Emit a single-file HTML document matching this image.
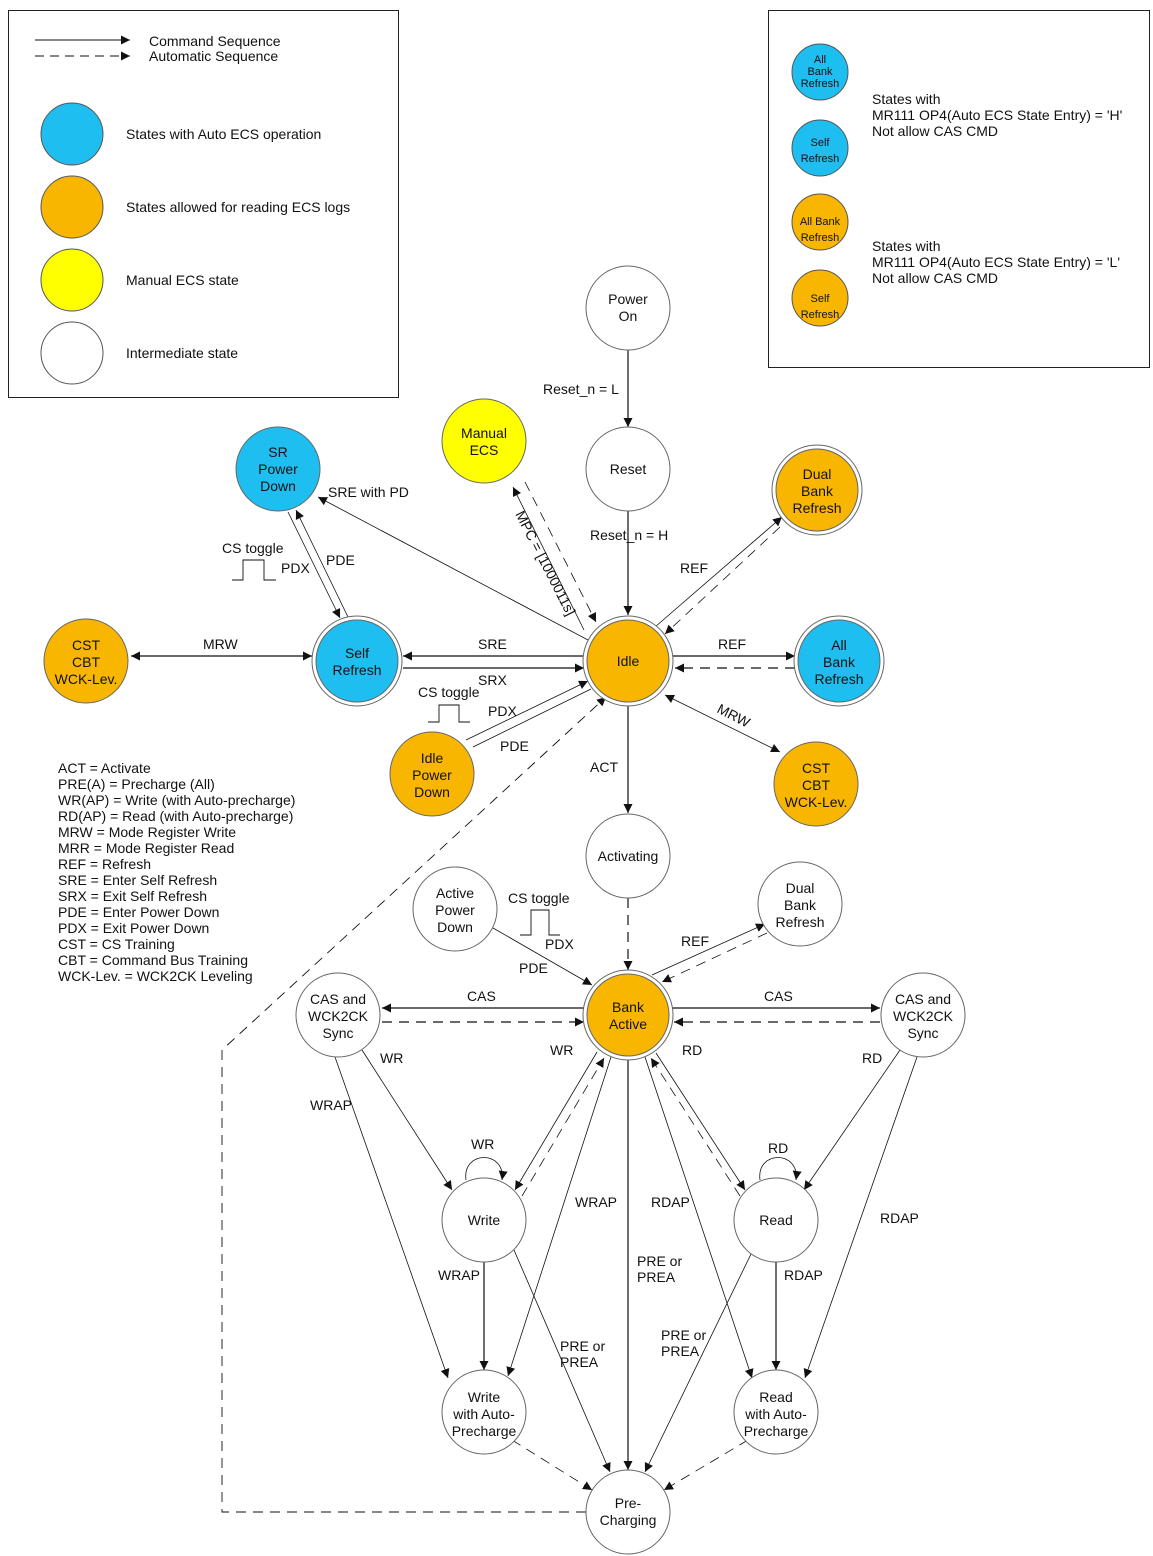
<!DOCTYPE html>
<html><head><meta charset="utf-8"><style>
html,body{margin:0;padding:0;background:#fff}
svg{display:block}
text{font-family:"Liberation Sans",Arial,sans-serif;font-size:14px;fill:#111}
.c{text-anchor:middle}
.s{font-size:11px}
</style></head><body>
<svg width="1153" height="1556" viewBox="0 0 1153 1556" xmlns="http://www.w3.org/2000/svg">
<defs>
<marker id="a" viewBox="0 0 10 10" refX="10" refY="5" markerWidth="9" markerHeight="9" orient="auto-start-reverse" markerUnits="userSpaceOnUse"><path d="M0,0L10,5L0,10z" fill="#111"/></marker>
</defs>
<!-- legends -->
<rect x="8.5" y="10.5" width="390" height="387" fill="none" stroke="#222"/>
<line x1="35" y1="40" x2="130" y2="40" stroke="#111" marker-end="url(#a)"/>
<line x1="35" y1="56" x2="130" y2="56" stroke="#111" stroke-dasharray="9,6" marker-end="url(#a)"/>
<text x="149" y="46">Command Sequence</text>
<text x="149" y="61">Automatic Sequence</text>
<circle cx="72" cy="134" r="31" fill="#1ebff0" stroke="#555"/>
<circle cx="72" cy="207" r="31" fill="#f8b600" stroke="#555"/>
<circle cx="72" cy="280" r="31" fill="#ffff00" stroke="#555"/>
<circle cx="72" cy="353" r="31" fill="#fff" stroke="#555"/>
<text x="126" y="139">States with Auto ECS operation</text>
<text x="126" y="212">States allowed for reading ECS logs</text>
<text x="126" y="285">Manual ECS state</text>
<text x="126" y="358">Intermediate state</text>

<rect x="768.5" y="10.5" width="381" height="357" fill="none" stroke="#222"/>
<circle cx="820" cy="72" r="28" fill="#1ebff0" stroke="#555"/>
<circle cx="820" cy="148" r="28" fill="#1ebff0" stroke="#555"/>
<circle cx="820" cy="222" r="28" fill="#f8b600" stroke="#555"/>
<circle cx="820" cy="298" r="28" fill="#f8b600" stroke="#555"/>
<text class="c s" x="820" y="63">All</text><text class="c s" x="820" y="75">Bank</text><text class="c s" x="820" y="87">Refresh</text>
<text class="c s" x="820" y="146">Self</text><text class="c s" x="820" y="162">Refresh</text>
<text class="c s" x="820" y="225">All Bank</text><text class="c s" x="820" y="241">Refresh</text>
<text class="c s" x="820" y="302">Self</text><text class="c s" x="820" y="318">Refresh</text>
<text x="872" y="104">States with</text>
<text x="872" y="120">MR111 OP4(Auto ECS State Entry) = 'H'</text>
<text x="872" y="136">Not allow CAS CMD</text>
<text x="872" y="251">States with</text>
<text x="872" y="267">MR111 OP4(Auto ECS State Entry) = 'L'</text>
<text x="872" y="283">Not allow CAS CMD</text>

<!-- edges -->
<g stroke="#111" stroke-width="1.2" fill="none">
<line x1="628" y1="350" x2="628" y2="427" marker-end="url(#a)"/>
<line x1="628" y1="511" x2="628" y2="615" marker-end="url(#a)"/>
<line x1="584" y1="630" x2="513" y2="487" stroke-width="0.8" marker-end="url(#a)"/>
<line x1="525" y1="482" x2="596" y2="622" stroke-dasharray="10,7" stroke-width="0.8" marker-end="url(#a)"/>
<line x1="588" y1="640" x2="318" y2="497" stroke-width="0.8" marker-end="url(#a)"/>
<line x1="288" y1="512" x2="340" y2="618" stroke-width="0.8" marker-end="url(#a)"/>
<line x1="348" y1="617" x2="296" y2="510" stroke-width="0.8" marker-end="url(#a)"/>
<line x1="131" y1="656" x2="312" y2="656" marker-start="url(#a)" marker-end="url(#a)"/>
<line x1="584" y1="656" x2="403" y2="656" marker-end="url(#a)"/>
<line x1="403" y1="668" x2="584" y2="668" marker-end="url(#a)"/>
<line x1="466" y1="740" x2="588" y2="681" stroke-width="0.8" marker-end="url(#a)"/>
<line x1="591" y1="689" x2="473" y2="747" stroke-width="0.8"/>
<line x1="655" y1="627" x2="782" y2="517" stroke-width="0.8" marker-end="url(#a)"/>
<line x1="780" y1="527" x2="665" y2="634" stroke-dasharray="10,7" stroke-width="0.8" marker-end="url(#a)"/>
<line x1="673" y1="656" x2="795" y2="656" marker-end="url(#a)"/>
<line x1="795" y1="668" x2="675" y2="668" stroke-dasharray="10,7" marker-end="url(#a)"/>
<line x1="665" y1="695" x2="780" y2="752" stroke-width="0.8" marker-start="url(#a)" marker-end="url(#a)"/>
<line x1="628" y1="705" x2="628" y2="813" marker-end="url(#a)"/>
<line x1="628" y1="898" x2="628" y2="970" stroke-dasharray="10,7" marker-end="url(#a)"/>
<line x1="493" y1="928" x2="592" y2="985" stroke-width="0.8" marker-end="url(#a)"/>
<line x1="652" y1="975" x2="765" y2="924" stroke-width="0.8" marker-end="url(#a)"/>
<line x1="767" y1="933" x2="662" y2="982" stroke-dasharray="10,7" stroke-width="0.8" marker-end="url(#a)"/>
<line x1="584" y1="1008" x2="382" y2="1008" marker-end="url(#a)"/>
<line x1="382" y1="1022" x2="584" y2="1022" stroke-dasharray="10,7" marker-end="url(#a)"/>
<line x1="672" y1="1008" x2="880" y2="1008" marker-end="url(#a)"/>
<line x1="880" y1="1022" x2="674" y2="1022" stroke-dasharray="10,7" marker-end="url(#a)"/>
<line x1="362" y1="1050" x2="452" y2="1190" stroke-width="0.8" marker-end="url(#a)"/>
<line x1="335" y1="1057" x2="448" y2="1378" stroke-width="0.8" marker-end="url(#a)"/>
<line x1="597" y1="1052" x2="515" y2="1190" stroke-width="0.8" marker-end="url(#a)"/>
<line x1="522" y1="1196" x2="604" y2="1058" stroke-dasharray="10,7" stroke-width="0.8" marker-end="url(#a)"/>
<path d="M466,1180 C462,1150 506,1150 502,1180" stroke-width="0.8" marker-end="url(#a)"/>
<line x1="484" y1="1262" x2="484" y2="1370" marker-end="url(#a)"/>
<line x1="514" y1="1250" x2="610" y2="1472" stroke-width="0.8" marker-end="url(#a)"/>
<line x1="611" y1="1057" x2="508" y2="1376" stroke-width="0.8" marker-end="url(#a)"/>
<line x1="628" y1="1058" x2="628" y2="1470" marker-end="url(#a)"/>
<line x1="656" y1="1053" x2="745" y2="1190" stroke-width="0.8" marker-end="url(#a)"/>
<line x1="740" y1="1196" x2="651" y2="1058" stroke-dasharray="10,7" stroke-width="0.8" marker-end="url(#a)"/>
<line x1="645" y1="1057" x2="752" y2="1378" stroke-width="0.8" marker-end="url(#a)"/>
<path d="M760,1180 C756,1150 800,1150 796,1180" stroke-width="0.8" marker-end="url(#a)"/>
<line x1="900" y1="1050" x2="804" y2="1190" stroke-width="0.8" marker-end="url(#a)"/>
<line x1="917" y1="1057" x2="805" y2="1378" stroke-width="0.8" marker-end="url(#a)"/>
<line x1="776" y1="1262" x2="776" y2="1370" marker-end="url(#a)"/>
<line x1="752" y1="1252" x2="645" y2="1472" stroke-width="0.8" marker-end="url(#a)"/>
<line x1="512" y1="1440" x2="592" y2="1490" stroke-dasharray="10,7" stroke-width="0.8" marker-end="url(#a)"/>
<line x1="748" y1="1440" x2="664" y2="1490" stroke-dasharray="10,7" stroke-width="0.8" marker-end="url(#a)"/>
<path d="M586,1512 H222 V1050 L606,697" stroke-dasharray="10,7" stroke-width="0.9" marker-end="url(#a)"/>
<!-- pulses -->
<path d="M232,580 H243 V560 H264 V580 H276" stroke-width="0.9"/>
<path d="M428,722 H439 V705 H459 V722 H470" stroke-width="0.9"/>
<path d="M520,935 H531 V910 H549 V935 H560" stroke-width="0.9"/>
</g>

<!-- nodes -->
<g stroke="#666" stroke-width="1">
<circle cx="628" cy="308" r="42" fill="#fff"/>
<circle cx="628" cy="469" r="42" fill="#fff"/>
<circle cx="484" cy="441" r="42" fill="#ffff00"/>
<circle cx="278" cy="469" r="42" fill="#1ebff0"/>
<circle cx="817" cy="490" r="45" fill="#fff"/><circle cx="817" cy="490" r="41" fill="#f8b600"/>
<circle cx="357" cy="661" r="45" fill="#fff"/><circle cx="357" cy="661" r="41" fill="#1ebff0"/>
<circle cx="86" cy="661" r="42" fill="#f8b600"/>
<circle cx="628" cy="661" r="45" fill="#fff"/><circle cx="628" cy="661" r="41" fill="#f8b600"/>
<circle cx="839" cy="661" r="45" fill="#fff"/><circle cx="839" cy="661" r="41" fill="#1ebff0"/>
<circle cx="432" cy="774" r="42" fill="#f8b600"/>
<circle cx="816" cy="784" r="42" fill="#f8b600"/>
<circle cx="628" cy="856" r="42" fill="#fff"/>
<circle cx="455" cy="909" r="42" fill="#fff"/>
<circle cx="800" cy="904" r="42" fill="#fff"/>
<circle cx="338" cy="1015" r="42" fill="#fff"/>
<circle cx="923" cy="1015" r="42" fill="#fff"/>
<circle cx="628" cy="1015" r="45" fill="#fff"/><circle cx="628" cy="1015" r="41" fill="#f8b600"/>
<circle cx="484" cy="1220" r="42" fill="#fff"/>
<circle cx="776" cy="1220" r="42" fill="#fff"/>
<circle cx="484" cy="1412" r="42" fill="#fff"/>
<circle cx="776" cy="1412" r="42" fill="#fff"/>
<circle cx="628" cy="1512" r="42" fill="#fff"/>
</g>
<g class="c">
<text class="c" x="628" y="304">Power</text><text class="c" x="628" y="321">On</text>
<text class="c" x="628" y="474">Reset</text>
<text class="c" x="484" y="438">Manual</text><text class="c" x="484" y="455">ECS</text>
<text class="c" x="278" y="457">SR</text><text class="c" x="278" y="474">Power</text><text class="c" x="278" y="491">Down</text>
<text class="c" x="817" y="479">Dual</text><text class="c" x="817" y="496">Bank</text><text class="c" x="817" y="513">Refresh</text>
<text class="c" x="357" y="658">Self</text><text class="c" x="357" y="675">Refresh</text>
<text class="c" x="86" y="650">CST</text><text class="c" x="86" y="667">CBT</text><text class="c" x="86" y="684">WCK-Lev.</text>
<text class="c" x="628" y="666">Idle</text>
<text class="c" x="839" y="650">All</text><text class="c" x="839" y="667">Bank</text><text class="c" x="839" y="684">Refresh</text>
<text class="c" x="432" y="763">Idle</text><text class="c" x="432" y="780">Power</text><text class="c" x="432" y="797">Down</text>
<text class="c" x="816" y="773">CST</text><text class="c" x="816" y="790">CBT</text><text class="c" x="816" y="807">WCK-Lev.</text>
<text class="c" x="628" y="861">Activating</text>
<text class="c" x="455" y="898">Active</text><text class="c" x="455" y="915">Power</text><text class="c" x="455" y="932">Down</text>
<text class="c" x="800" y="893">Dual</text><text class="c" x="800" y="910">Bank</text><text class="c" x="800" y="927">Refresh</text>
<text class="c" x="338" y="1004">CAS and</text><text class="c" x="338" y="1021">WCK2CK</text><text class="c" x="338" y="1038">Sync</text>
<text class="c" x="923" y="1004">CAS and</text><text class="c" x="923" y="1021">WCK2CK</text><text class="c" x="923" y="1038">Sync</text>
<text class="c" x="628" y="1012">Bank</text><text class="c" x="628" y="1029">Active</text>
<text class="c" x="484" y="1225">Write</text>
<text class="c" x="776" y="1225">Read</text>
<text class="c" x="484" y="1402">Write</text><text class="c" x="484" y="1419">with Auto-</text><text class="c" x="484" y="1436">Precharge</text>
<text class="c" x="776" y="1402">Read</text><text class="c" x="776" y="1419">with Auto-</text><text class="c" x="776" y="1436">Precharge</text>
<text class="c" x="628" y="1508">Pre-</text><text class="c" x="628" y="1525">Charging</text>
</g>

<!-- edge labels -->
<text x="543" y="394">Reset_n = L</text>
<text x="590" y="540">Reset_n = H</text>
<text x="0" y="0" transform="translate(515,514) rotate(63)">MPC = [1000011s]</text>
<text x="328" y="497">SRE with PD</text>
<text x="222" y="553">CS toggle</text>
<text x="281" y="573">PDX</text>
<text x="326" y="565">PDE</text>
<text x="203" y="649">MRW</text>
<text x="478" y="649">SRE</text>
<text x="478" y="685">SRX</text>
<text x="418" y="697">CS toggle</text>
<text x="488" y="716">PDX</text>
<text x="500" y="751">PDE</text>
<text x="680" y="573">REF</text>
<text x="718" y="649">REF</text>
<text x="0" y="0" transform="translate(716,712) rotate(27)">MRW</text>
<text x="590" y="772">ACT</text>
<text x="508" y="903">CS toggle</text>
<text x="545" y="949">PDX</text>
<text x="519" y="973">PDE</text>
<text x="681" y="946">REF</text>
<text x="467" y="1001">CAS</text>
<text x="764" y="1001">CAS</text>
<text x="380" y="1063">WR</text>
<text x="550" y="1055">WR</text>
<text x="682" y="1055">RD</text>
<text x="862" y="1063">RD</text>
<text x="310" y="1110">WRAP</text>
<text x="471" y="1149">WR</text>
<text x="768" y="1153">RD</text>
<text x="575" y="1207">WRAP</text>
<text x="651" y="1207">RDAP</text>
<text x="880" y="1223">RDAP</text>
<text x="438" y="1280">WRAP</text>
<text x="784" y="1280">RDAP</text>
<text x="637" y="1266">PRE or</text><text x="637" y="1282">PREA</text>
<text x="560" y="1351">PRE or</text><text x="560" y="1367">PREA</text>
<text x="661" y="1340">PRE or</text><text x="661" y="1356">PREA</text>

<g>
<text x="58" y="773">ACT = Activate</text>
<text x="58" y="789">PRE(A) = Precharge (All)</text>
<text x="58" y="805">WR(AP) = Write (with Auto-precharge)</text>
<text x="58" y="821">RD(AP) = Read (with Auto-precharge)</text>
<text x="58" y="837">MRW = Mode Register Write</text>
<text x="58" y="853">MRR = Mode Register Read</text>
<text x="58" y="869">REF = Refresh</text>
<text x="58" y="885">SRE = Enter Self Refresh</text>
<text x="58" y="901">SRX = Exit Self Refresh</text>
<text x="58" y="917">PDE = Enter Power Down</text>
<text x="58" y="933">PDX = Exit Power Down</text>
<text x="58" y="949">CST = CS Training</text>
<text x="58" y="965">CBT = Command Bus Training</text>
<text x="58" y="981">WCK-Lev. = WCK2CK Leveling</text>
</g>
</svg>
</body></html>
